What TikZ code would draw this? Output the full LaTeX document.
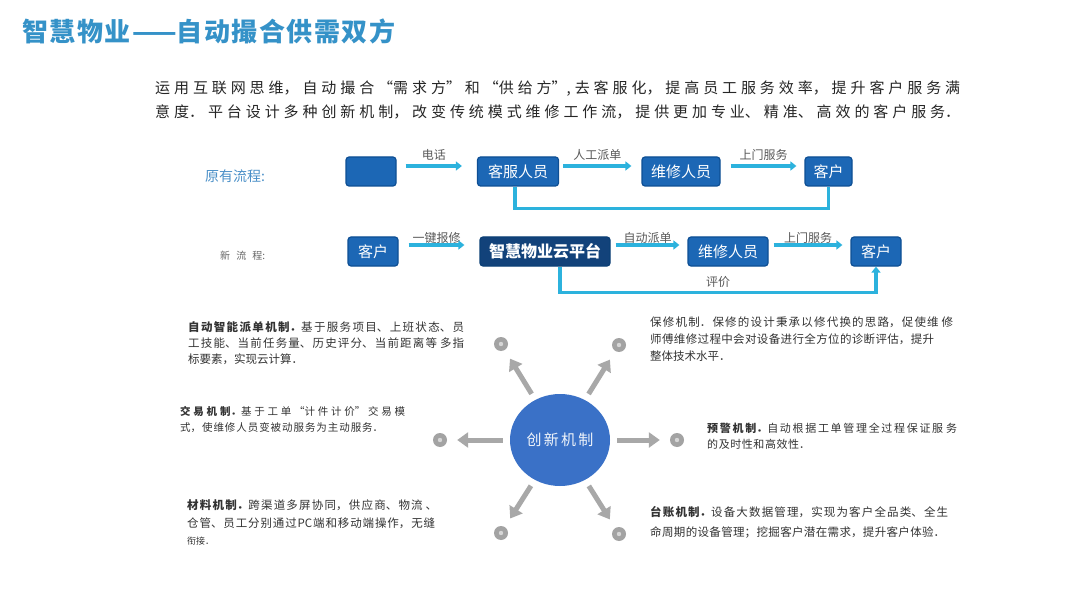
\documentclass[tikz,border=0pt]{standalone}
\usepackage{fontspec}
\setmainfont{Noto Sans CJK SC}
\usetikzlibrary{arrows.meta,shapes.geometric}

\XeTeXlinebreaklocale "zh"
\XeTeXlinebreakskip=0pt plus 4pt

\definecolor{titleblue}{HTML}{3592C8}
\definecolor{labelblue}{HTML}{4B90C8}
\definecolor{boxblue}{HTML}{1C67B5}
\definecolor{boxedge}{HTML}{0E4F94}
\definecolor{platnavy}{HTML}{12427A}
\definecolor{flowcyan}{HTML}{2CB2DD}
\definecolor{spokegray}{HTML}{A8A8A8}
\definecolor{dotgray}{HTML}{A3A3A3}
\definecolor{dotlight}{HTML}{D6D6D6}
\definecolor{hubblue}{HTML}{3A71C7}
\definecolor{textgray}{HTML}{333333}

% stretch one line of text to a fixed width
\newcommand\fitline[2]{\parbox[t]{#1}{\parindent=0pt\parfillskip=0pt\hbadness=10000 #2\par}}

\begin{document}
\begin{tikzpicture}[x=1pt, y=-1pt,
  flowbox/.style={draw=boxedge, fill=boxblue, line width=1.2pt, rounded corners=3pt,
    text=white, minimum height=29pt, inner sep=0pt, font=\fontsize{15}{15}\selectfont},
  flowarrow/.style={draw=flowcyan, line width=3.5pt, -{Triangle[width=9pt,length=6pt]}},
  flowline/.style={draw=flowcyan, line width=3.5pt},
  flowlabel/.style={font=\fontsize{12}{12}\selectfont, text=black!65, inner sep=1pt},
  spoke/.style={draw=spokegray, line width=5pt, -{Triangle[width=15pt,length=11pt]},
    shorten <=7pt, shorten >=10pt},
  hubdot/.style={circle, fill=dotgray, minimum size=14pt, inner sep=0pt},
  tline/.style={anchor=base west, inner sep=0pt, text=textgray, font=\fontsize{11.5}{11.5}\selectfont},
  ]
  \useasboundingbox (0,0) rectangle (1080,607);
  \fill[white] (0,0) rectangle (1080,607);

  %%% title and intro %%%
  \node[tline, text=titleblue, font=\fontsize{26}{26}\selectfont\bfseries]
    (title) at (22,42) {\fitline{373pt}{智慧物业——自动撮合供需双方}};
  \node[tline, font=\fontsize{15}{15}\selectfont, text=black!85] (intro1) at (155,94)
    {\fitline{805pt}{运用互联网思维，自动撮合“需求方”和“供给方”,去客服化，提高员工服务效率，提升客户服务满}};
  \node[tline, font=\fontsize{15}{15}\selectfont, text=black!85] (intro2) at (155,118)
    {\fitline{805pt}{意度．平台设计多种创新机制，改变传统模式维修工作流，提供更加专业、精准、高效的客户服务．}};

  %%% original flow %%%
  \node[anchor=west, inner sep=0pt, text=labelblue, font=\fontsize{14}{14}\selectfont]
    (oldlabel) at (205,176) {原有流程:};
  \node[flowbox, minimum width=50pt] (o1) at (371,171.5) {};
  \node[flowbox, minimum width=81pt] (o2) at (518,171.5) {客服人员};
  \node[flowbox, minimum width=78pt] (o3) at (681,171.5) {维修人员};
  \node[flowbox, minimum width=47pt] (o4) at (828.5,171.5) {客户};

  \draw[flowarrow] ([xshift=9pt,yshift=5.5pt]o1.east) -- node[flowlabel, above=3pt] {电话}
    ([xshift=-15pt,yshift=5.5pt]o2.west);
  \draw[flowarrow] ([xshift=4pt,yshift=5.5pt]o2.east) -- node[flowlabel, above=3pt] {人工派单}
    ([xshift=-10pt,yshift=5.5pt]o3.west);
  \draw[flowarrow] ([xshift=10pt,yshift=5.5pt]o3.east) -- node[flowlabel, above=3pt] {上门服务}
    ([xshift=-8pt,yshift=5.5pt]o4.west);
  \draw[flowline] ([xshift=-3pt]o2.south) -- ++(0,22) -| (o4.south);

  %%% new flow %%%
  \node[tline, text=black!60, font=\fontsize{10}{10}\selectfont]
    (newlabel) at (220,259) {\fitline{45pt}{新流程:}};
  \node[flowbox, minimum width=50pt] (n1) at (373,251.5) {客户};
  \node[flowbox, minimum width=130pt, fill=platnavy, draw=boxedge!80!black,
    font=\fontsize{16}{16}\selectfont\bfseries] (n2) at (545,251.5) {智慧物业云平台};
  \node[flowbox, minimum width=80pt] (n3) at (728,251.5) {维修人员};
  \node[flowbox, minimum width=50pt] (n4) at (876,251.5) {客户};

  \draw[flowarrow] ([xshift=10pt,yshift=6.5pt]n1.east) -- node[flowlabel, above=-1pt] {一键报修}
    ([xshift=-15pt,yshift=6.5pt]n2.west);
  \draw[flowarrow] ([xshift=5pt,yshift=6.5pt]n2.east) -- node[flowlabel, above=-1pt] {自动派单}
    ([xshift=-8pt,yshift=6.5pt]n3.west);
  \draw[flowarrow] ([xshift=5pt,yshift=6.5pt]n3.east) -- node[flowlabel, above=-1pt] {上门服务}
    ([xshift=-8pt,yshift=6.5pt]n4.west);
  \draw[flowarrow] ([xshift=15pt]n2.south) -- ++(0,26) -| node[flowlabel, pos=0.25, above=2pt] {评价}
    (n4.south);

  %%% innovation hub with six spokes %%%
  \node[ellipse, fill=hubblue, minimum width=100pt, minimum height=92pt, inner sep=0pt,
    text=white!92!hubblue, font=\fontsize{15}{15}\selectfont] (hub) at (560,440)
    {\fitline{67pt}{创新机制}};
  \foreach \dn/\dx/\dy in {ul/501/344, ur/619/345, l/440/440, r/677/440, dl/501/533, dr/619/534} {
    \node[hubdot] (d\dn) at (\dx,\dy) {};
    \fill[dotlight] (d\dn) circle (2.2pt);
    \draw[spoke] (hub) -- (d\dn);
  }

  %%% mechanism texts %%%
  \node[tline] (tl1) at (188,331) {\fitline{276pt}{\textbf{自动智能派单机制．}基于服务项目、上班状态、员}};
  \node[tline] (tl2) at (188,347) {\fitline{276pt}{工技能、当前任务量、历史评分、当前距离等 多指}};
  \node[tline] (tl3) at (188,363) {标要素，实现云计算．};

  \node[tline] (tr1) at (650,326) {\fitline{303pt}{保修机制．保修的设计秉承以修代换的思路，促使维 修}};
  \node[tline] (tr2) at (650,343) {\fitline{284pt}{师傅维修过程中会对设备进行全方位的诊断评估，提升}};
  \node[tline] (tr3) at (650,360) {整体技术水平．};

  \node[tline, font=\fontsize{10.5}{10.5}\selectfont] (ml1) at (180,415)
    {\fitline{225pt}{\textbf{交易机制．}基于工单“计件计价”交易模}};
  \node[tline, font=\fontsize{10.5}{10.5}\selectfont] (ml2) at (180,431)
    {\fitline{203pt}{式，使维修人员变被动服务为主动服务．}};

  \node[tline, font=\fontsize{11}{11}\selectfont] (mr1) at (707,432)
    {\fitline{250pt}{\textbf{预警机制．}自动根据工单管理全过程保证服 务}};
  \node[tline, font=\fontsize{11}{11}\selectfont] (mr2) at (707,448)
    {\fitline{103pt}{的及时性和高效性．}};

  \node[tline] (bl1) at (187,509) {\fitline{250pt}{\textbf{材料机制．}跨渠道多屏协同，供应商、物流 、}};
  \node[tline] (bl2) at (187,527) {\fitline{248pt}{仓管、员工分别通过PC端和移动端操作，无缝}};
  \node[tline, font=\fontsize{9}{9}\selectfont] (bl3) at (187,544) {衔接．};

  \node[tline] (br1) at (650,516)
    {\fitline{298pt}{\textbf{台账机制．}设备大数据管理，实现为客户全品类、全生}};
  \node[tline] (br2) at (650,536)
    {\fitline{295pt}{命周期的设备管理；挖掘客户潜在需求，提升客户体验．}};
\end{tikzpicture}
\end{document}
